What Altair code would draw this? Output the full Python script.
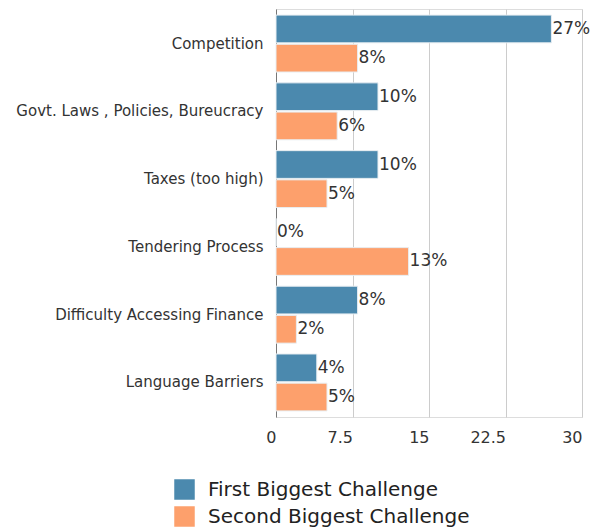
import altair as alt
import pandas as pd

categories = ["Competition", "Govt. Laws , Policies, Bureucracy", "Taxes (too high)",
              "Tendering Process", "Difficulty Accessing Finance", "Language Barriers"]
series = ["First Biggest Challenge", "Second Biggest Challenge"]
first = [27, 10, 10, 0, 8, 4]
second = [8, 6, 5, 13, 2, 5]
colors = ["#4b89ae", "#fda06c"]

rows = []
for c, a, b in zip(categories, first, second):
    rows.append({"cat": c, "series": series[0], "value": a, "label": f"{a}%"})
    rows.append({"cat": c, "series": series[1], "value": b, "label": f"{b}%"})
df = pd.DataFrame(rows)

FONT = "DejaVu Sans"

y = alt.Y("cat:N", sort=categories, title=None,
          scale=alt.Scale(paddingInner=0.16, paddingOuter=0.09),
          axis=alt.Axis(labelFontSize=15, labelColor="#333333", labelFont=FONT,
                        ticks=False, domainColor="#777777", labelPadding=13, labelLimit=300))
yoff = alt.YOffset("series:N", sort=series, scale=alt.Scale(paddingInner=0.05))
x = alt.X("value:Q", title=None,
          scale=alt.Scale(domain=[0, 30], nice=False),
          axis=alt.Axis(values=[0, 7.5, 15, 22.5, 30], labelFontSize=16, labelColor="#333333",
                        labelFont=FONT, ticks=False, domain=False, gridColor="#cccccc",
                        labelAlign="right", labelPadding=12, labelExpr="datum.value"))

bars = alt.Chart(df).mark_bar(stroke="#e8eef2", strokeWidth=1).encode(
    x=x, y=y, yOffset=yoff,
    color=alt.Color("series:N", sort=series, title=None,
                    scale=alt.Scale(domain=series, range=colors),
                    legend=alt.Legend(orient="none", legendX=-102, legendY=470,
                                      symbolType="square", symbolSize=420, symbolStrokeWidth=0,
                                      labelFontSize=20, labelFont=FONT, labelColor="#222222",
                                      labelLimit=0, rowPadding=6, labelOffset=13)),
)
texts = alt.Chart(df).mark_text(align="left", baseline="middle", dx=1, fontSize=17,
                                font=FONT, color="#333333").encode(
    x="value:Q", y=alt.Y("cat:N", sort=categories), yOffset=yoff, text="label:N")

chart = (bars + texts).properties(
    width=306, height=408,
    autosize=alt.AutoSizeParams(type="none"),
    padding={"left": 276, "top": 9, "right": 20, "bottom": 110},
).configure_view(stroke=None).configure(font=FONT)

chart.save("out.html", embed_options={"renderer": "svg", "actions": False})
